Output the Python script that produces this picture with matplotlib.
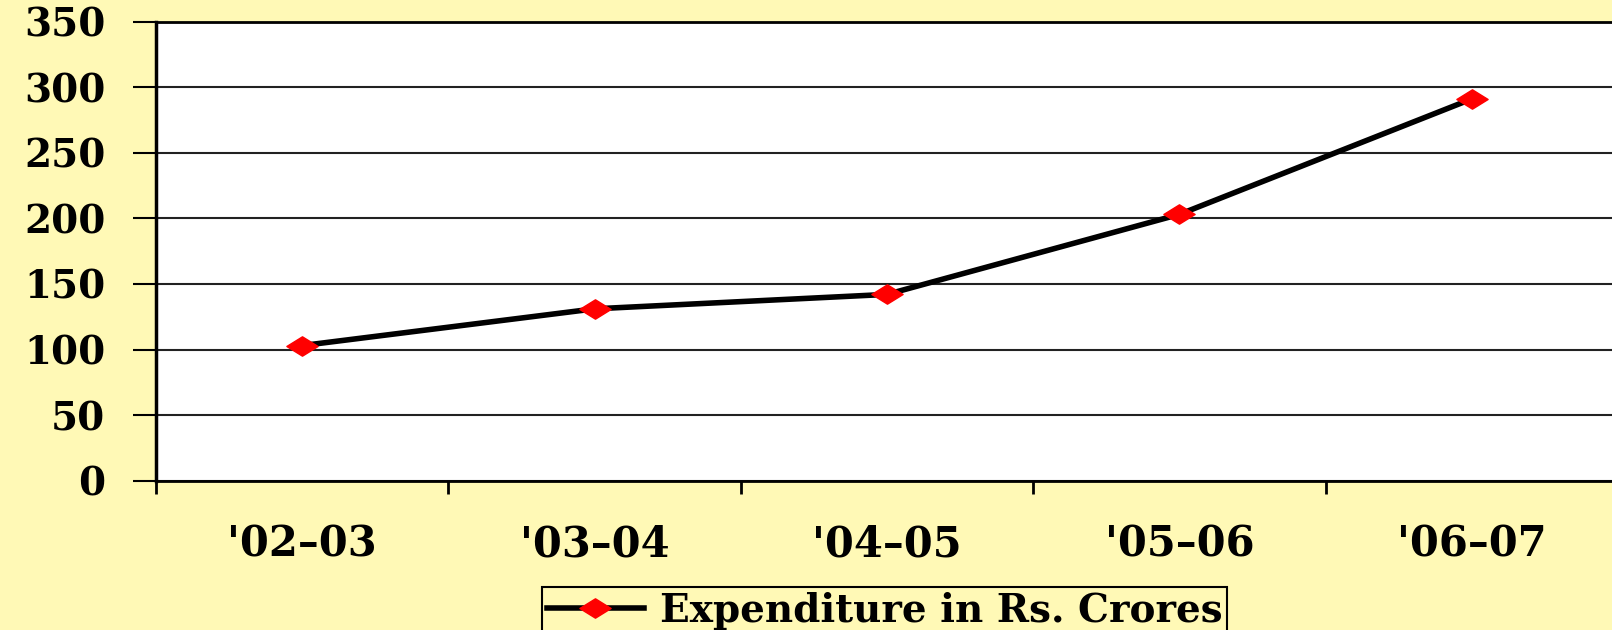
import matplotlib
matplotlib.use('Agg')
import matplotlib.pyplot as plt
from matplotlib.path import Path

# data
years = ["'02–03", "'03–04", "'04–05", "'05–06", "'06–07"]
expenditure = [103, 131, 142, 203, 291]
y_ticks = [0, 50, 100, 150, 200, 250, 300, 350]

bg = '#FFF9B6'
plt.rcParams['font.family'] = 'DejaVu Serif'
plt.rcParams['font.weight'] = 'bold'

# flat diamond marker like the one in the original
diamond = Path([(-1, 0), (0, 0.62), (1, 0), (0, -0.62), (-1, 0)],
               [Path.MOVETO, Path.LINETO, Path.LINETO, Path.LINETO, Path.CLOSEPOLY])

fig = plt.figure(figsize=(16.12, 6.30), dpi=100, facecolor=bg)
ax = fig.add_axes([156 / 1612, 1 - 480.7 / 630, (1618 - 156) / 1612, (480.7 - 21.5) / 630])
ax.set_facecolor('white')

x = list(range(len(years)))
ax.plot(x, expenditure, color='black', lw=4, marker=diamond, markersize=22.5,
        markerfacecolor='red', markeredgecolor='red', label='Expenditure in Rs. Crores',
        zorder=3)

ax.set_xlim(-0.5, len(years) - 0.5)
ax.set_ylim(0, 350)
ax.set_yticks(y_ticks)
ax.yaxis.grid(True, color='#222222', lw=1.5)
ax.set_axisbelow(True)

# boundary ticks without labels, labels centred on categories
ax.set_xticks([i - 0.5 for i in range(len(years) + 1)])
ax.set_xticklabels([])
ax.set_xticks(x, minor=True)
ax.set_xticklabels(years, minor=True, fontsize=30, fontweight='bold')
ax.tick_params(axis='x', which='major', length=9.5, width=2, direction='out')
ax.tick_params(axis='x', which='minor', length=0, pad=31)
ax.tick_params(axis='y', length=16.5, width=1.5, pad=20, labelsize=28)
for lab in ax.get_yticklabels():
    lab.set_fontweight('bold')

ax.spines['left'].set_linewidth(2.5)
ax.spines['bottom'].set_linewidth(2)
ax.spines['top'].set_linewidth(2)
ax.spines['right'].set_visible(False)

leg = ax.legend(loc='upper center', bbox_to_anchor=(884.5 / 1612, 1 - 587 / 630),
                bbox_transform=fig.transFigure, frameon=True, fancybox=False,
                facecolor=bg, edgecolor='black', framealpha=1,
                prop={'size': 28, 'weight': 'bold'}, handlelength=2.5,
                handletextpad=0.4, borderpad=0.12, borderaxespad=0, markerscale=1.0)
leg.get_frame().set_linewidth(1.5)

fig.savefig('out.png', dpi=100, facecolor=bg)
